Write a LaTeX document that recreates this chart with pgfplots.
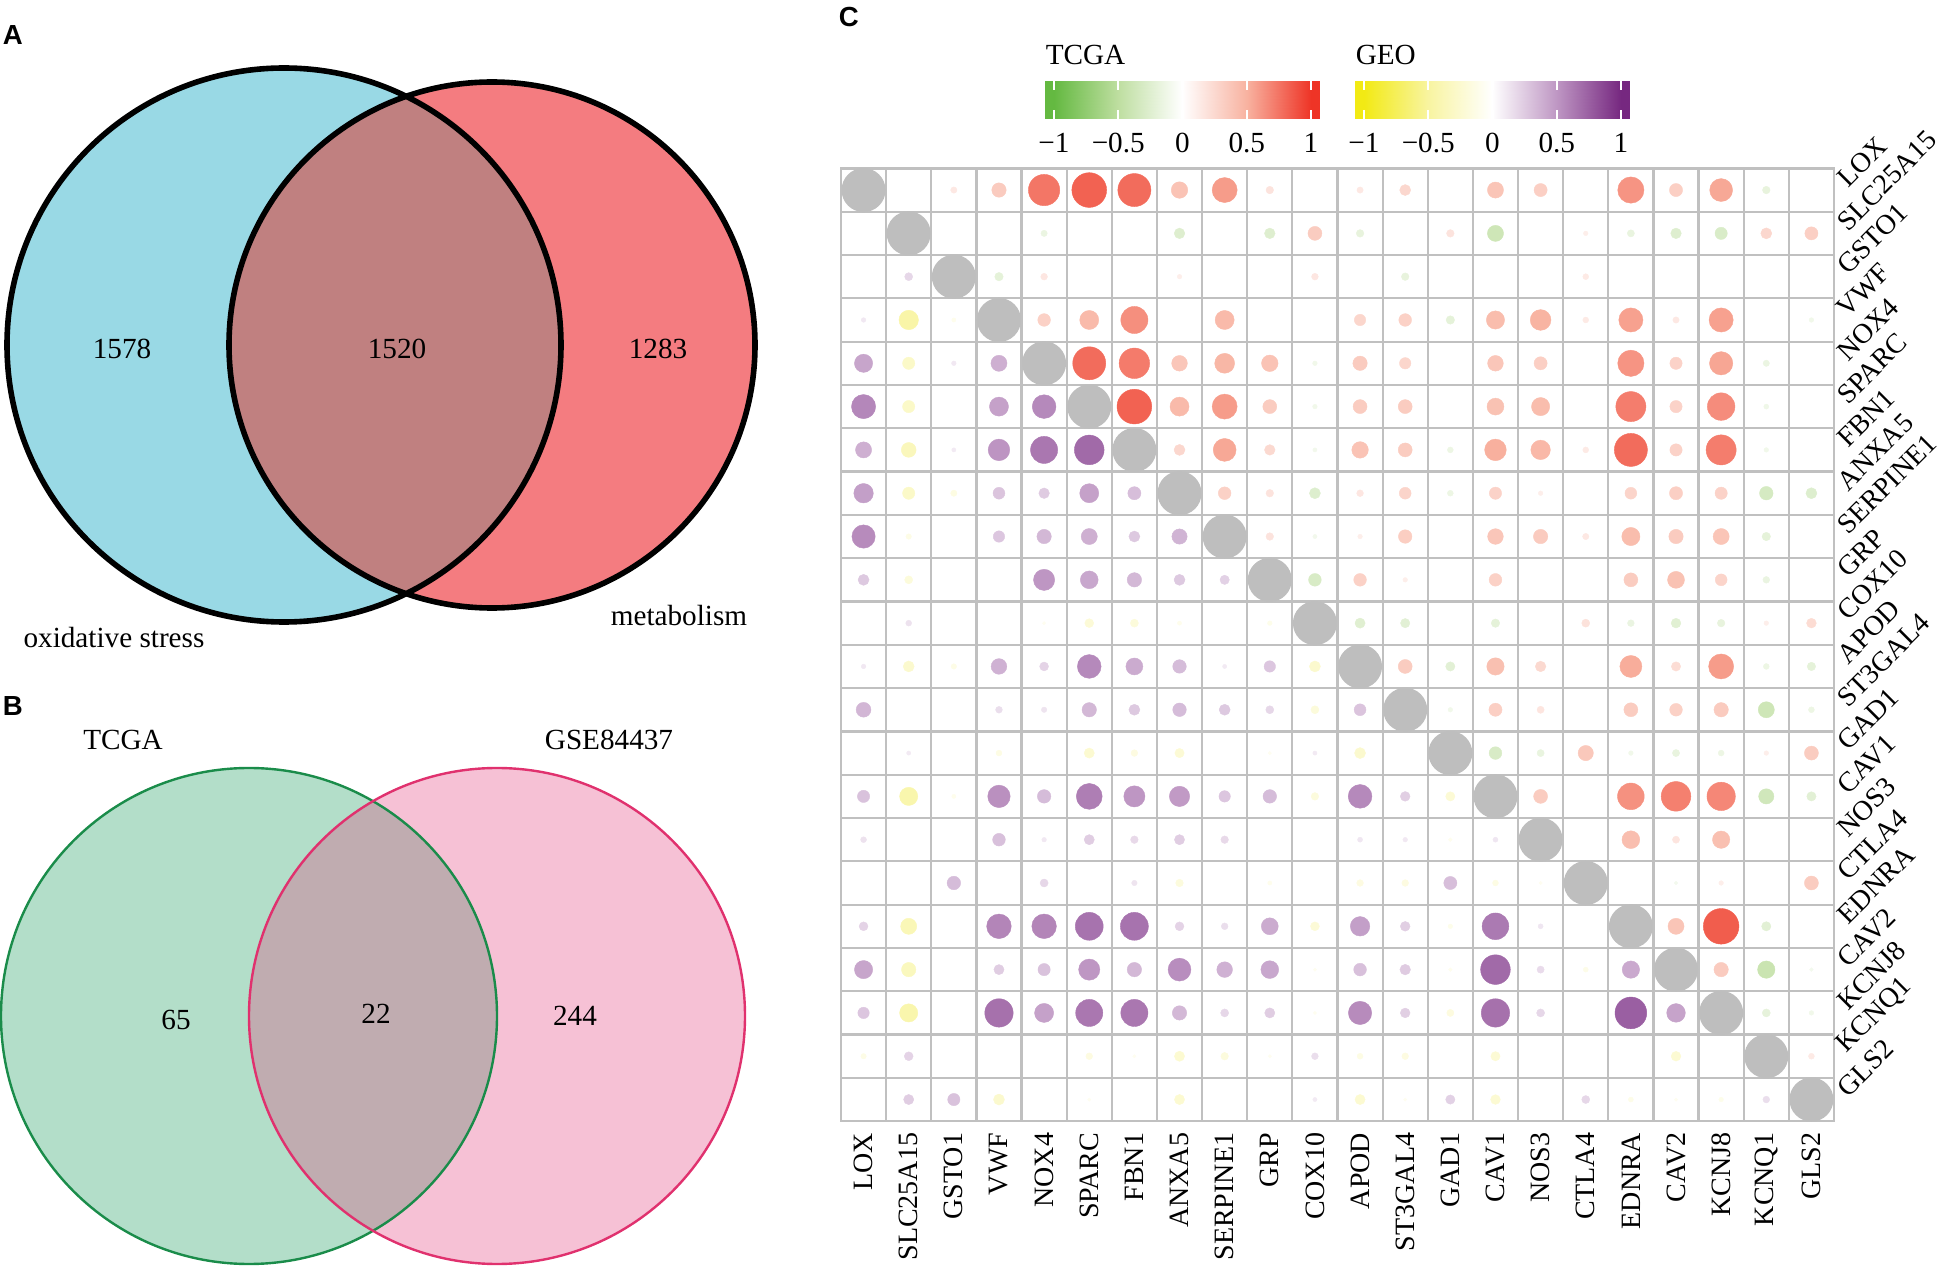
\documentclass[border=0pt]{standalone}
\usepackage{fontspec}
\setmainfont{Liberation Serif}
\setsansfont{Liberation Sans}
\usepackage{pgfplots}
\usepackage{pgfplotstable}
\pgfplotsset{compat=1.18}

\definecolor{vAl}{RGB}{153,217,229}
\definecolor{vAr}{RGB}{244,124,128}
\definecolor{vAi}{RGB}{192,128,128}
\definecolor{vBl}{RGB}{179,222,201}
\definecolor{vBls}{RGB}{26,140,74}
\definecolor{vBr}{RGB}{246,193,213}
\definecolor{vBrs}{RGB}{224,49,110}
\definecolor{vBi}{RGB}{192,172,176}
\definecolor{cgrid}{RGB}{192,192,192}
\definecolor{cdiag}{RGB}{190,190,190}

\pgfplotsset{
  colormap={tcga}{rgb255(0cm)=(100,185,65) rgb255(1cm)=(190,222,160) rgb255(2cm)=(255,255,255) rgb255(3cm)=(248,178,160) rgb255(4cm)=(238,52,38)},
  colormap={geo}{rgb255(0cm)=(242,234,20) rgb255(1cm)=(248,244,160) rgb255(2cm)=(255,255,255) rgb255(3cm)=(190,150,195) rgb255(4cm)=(118,40,128)},
}

\newcommand\txt{\fontsize{7.3}{8.5}\selectfont}
\newcommand\gene{\fontsize{7.0}{8.5}\selectfont}
\newcommand\panel{\sffamily\bfseries\fontsize{6.9}{8}\selectfont}

% upper triangle: TCGA correlations (x = column, y = row)
\pgfplotstableread{
x y v
3 1 0.15
4 1 0.34
5 1 0.74
6 1 0.82
7 1 0.78
8 1 0.39
9 1 0.59
10 1 0.18
12 1 0.15
13 1 0.26
15 1 0.38
16 1 0.31
18 1 0.62
19 1 0.31
20 1 0.54
21 1 -0.18
5 2 -0.15
8 2 -0.25
10 2 -0.25
11 2 0.33
12 2 -0.18
14 2 0.18
15 2 -0.38
17 2 0.11
18 2 -0.17
19 2 -0.25
20 2 -0.29
21 2 0.26
22 2 0.31
4 3 -0.2
5 3 0.16
8 3 0.11
11 3 0.16
13 3 -0.18
17 3 0.14
5 4 0.3
6 4 0.45
7 4 0.64
9 4 0.45
12 4 0.27
13 4 0.3
14 4 -0.2
15 4 0.43
16 4 0.49
17 4 0.14
18 4 0.57
19 4 0.15
20 4 0.57
22 4 -0.11
6 5 0.78
7 5 0.72
8 5 0.37
9 5 0.47
10 5 0.39
11 5 -0.11
12 5 0.34
13 5 0.27
15 5 0.37
16 5 0.31
18 5 0.62
19 5 0.29
20 5 0.55
21 5 -0.15
7 6 0.82
8 6 0.45
9 6 0.59
10 6 0.33
11 6 -0.11
12 6 0.33
13 6 0.33
15 6 0.4
16 6 0.43
18 6 0.71
19 6 0.29
20 6 0.65
21 6 -0.12
8 7 0.26
9 7 0.54
10 7 0.25
11 7 -0.1
12 7 0.39
13 7 0.33
14 7 -0.14
15 7 0.51
16 7 0.46
17 7 0.14
18 7 0.78
19 7 0.29
20 7 0.71
21 7 -0.11
9 8 0.3
10 8 0.18
11 8 -0.26
12 8 0.16
13 8 0.28
14 8 -0.14
15 8 0.29
16 8 0.11
18 8 0.28
19 8 0.31
20 8 0.29
21 8 -0.32
22 8 -0.26
10 9 0.18
11 9 -0.1
12 9 0.11
13 9 0.32
15 9 0.37
16 9 0.34
17 9 0.15
18 9 0.43
19 9 0.34
20 9 0.38
21 9 -0.2
11 10 -0.3
12 10 0.3
13 10 0.11
15 10 0.3
18 10 0.33
19 10 0.4
20 10 0.28
21 10 -0.16
12 11 -0.24
13 11 -0.22
15 11 -0.2
17 11 0.19
18 11 -0.16
19 11 -0.23
20 11 -0.18
21 11 0.11
22 11 0.23
13 12 0.33
14 12 -0.22
15 12 0.41
16 12 0.25
18 12 0.52
19 12 0.22
20 12 0.59
21 12 -0.14
22 12 -0.2
14 13 -0.11
15 13 0.31
16 13 0.17
18 13 0.33
19 13 0.3
20 13 0.34
21 13 -0.38
22 13 -0.14
15 14 -0.3
16 14 -0.17
17 14 0.36
18 14 -0.11
19 14 -0.17
20 14 -0.14
21 14 0.11
22 14 0.33
16 15 0.33
18 15 0.63
19 15 0.7
20 15 0.67
21 15 -0.36
22 15 -0.22
18 16 0.42
19 16 0.17
20 16 0.41
19 17 -0.09
20 17 0.11
22 17 0.33
19 18 0.38
20 18 0.84
21 18 -0.22
20 19 0.34
21 19 -0.41
22 19 -0.09
21 20 -0.19
22 20 -0.11
22 21 0.14
}\tcgatab

% lower triangle: GEO correlations
\pgfplotstableread{
x y v
2 3 0.19
1 4 0.11
2 4 -0.46
3 4 -0.1
1 5 0.43
2 5 -0.29
3 5 0.11
4 5 0.38
1 6 0.57
2 6 -0.29
4 6 0.45
5 6 0.56
1 7 0.38
2 7 -0.35
3 7 0.1
4 7 0.51
5 7 0.64
6 7 0.7
1 8 0.46
2 8 -0.29
3 8 -0.15
4 8 0.28
5 8 0.25
6 8 0.45
7 8 0.31
1 9 0.55
2 9 -0.13
4 9 0.27
5 9 0.34
6 9 0.38
7 9 0.26
8 9 0.36
1 10 0.26
2 10 -0.19
5 10 0.5
6 10 0.42
7 10 0.34
8 10 0.26
9 10 0.22
2 11 0.14
5 11 -0.08
6 11 -0.21
7 11 -0.19
8 11 -0.1
10 11 -0.11
1 12 0.11
2 12 -0.26
3 12 -0.13
4 12 0.37
5 12 0.21
6 12 0.56
7 12 0.4
8 12 0.32
9 12 0.1
10 12 0.27
11 12 -0.26
1 13 0.35
4 13 0.16
5 13 0.13
6 13 0.34
7 13 0.26
8 13 0.32
9 13 0.26
10 13 0.19
11 13 -0.19
12 13 0.28
2 14 0.1
4 14 -0.14
6 14 -0.24
7 14 -0.16
8 14 -0.22
10 14 -0.08
11 14 0.1
12 14 -0.26
1 15 0.29
2 15 -0.43
3 15 -0.1
4 15 0.53
5 15 0.32
6 15 0.61
7 15 0.5
8 15 0.48
9 15 0.27
10 15 0.32
11 15 -0.18
12 15 0.56
13 15 0.23
14 15 -0.22
1 16 0.14
4 16 0.3
5 16 0.11
6 16 0.24
7 16 0.18
8 16 0.24
9 16 0.18
12 16 0.12
13 16 0.11
14 16 -0.09
15 16 0.12
3 17 0.32
5 17 0.19
7 17 0.13
8 17 -0.18
10 17 -0.1
12 17 -0.16
13 17 -0.16
14 17 0.31
15 17 -0.14
16 17 -0.08
1 18 0.21
2 18 -0.38
4 18 0.58
5 18 0.58
6 18 0.66
7 18 0.66
8 18 0.21
9 18 0.16
10 18 0.4
11 18 -0.21
12 18 0.46
13 18 0.23
14 18 -0.11
15 18 0.63
16 18 0.12
1 19 0.43
2 19 -0.34
4 19 0.24
5 19 0.29
6 19 0.5
7 19 0.34
8 19 0.54
9 19 0.37
10 19 0.42
11 19 -0.08
12 19 0.3
13 19 0.25
14 19 -0.09
15 19 0.7
16 19 0.17
17 19 -0.12
18 19 0.41
1 20 0.27
2 20 -0.43
4 20 0.67
5 20 0.45
6 20 0.64
7 20 0.64
8 20 0.34
9 20 0.19
10 20 0.24
11 20 -0.08
12 20 0.55
13 20 0.23
14 20 -0.17
15 20 0.67
16 20 0.19
18 20 0.75
19 20 0.44
1 21 -0.13
2 21 0.21
6 21 -0.16
7 21 -0.08
8 21 -0.24
9 21 -0.18
10 21 -0.08
11 21 0.16
12 21 -0.14
13 21 -0.16
15 21 -0.22
19 21 -0.23
2 22 0.24
3 22 0.29
4 22 -0.26
6 22 -0.08
8 22 -0.24
11 22 0.1
12 22 -0.24
13 22 -0.08
14 22 0.22
15 22 -0.23
17 22 0.19
18 22 -0.12
19 22 -0.08
20 22 -0.11
21 22 0.16
}\geotab

% colour bar strips
\pgfplotstableread{
x y
-1.07 0
-1 0
-0.5 0
0 0
0.5 0
1 0
1.07 0
-1.07 1
-1 1
-0.5 1
0 1
0.5 1
1 1
1.07 1
}\bartab

\pgfplotsset{
  cbar/.style={
    anchor=south west, scale only axis, width=68.75pt, height=9.5pt,
    xmin=-1.07, xmax=1.07, ymin=0, ymax=1,
    ytick=\empty, xtick={-1,-0.5,0,0.5,1},
    xticklabels={−1,−0.5,0,0.5,1},
    xticklabel style={font=\txt},
    axis line style={draw=none},
    tick align=inside, major tick length=2.2pt,
    tick style={white, line width=0.6pt},
    axis on top, point meta min=-1, point meta max=1,
  },
  corr/.style={
    scatter, only marks, mark=*,
    point meta=\thisrow{v},
    scatter/use mapped color={draw=mapped color, fill=mapped color},
    visualization depends on={5.3*abs(\thisrow{v}) \as \rad},
    scatter/@pre marker code/.append style={/tikz/mark size=\rad},
    mark options={line width=0.1pt},
  },
}

\begin{document}
\begin{tikzpicture}
\useasboundingbox (0pt,0pt) rectangle (485.75pt,-317.25pt);

% panels A and B
\begin{axis}[at={(0pt,0pt)}, anchor=north west, scale only axis,
  width=195pt, height=317.25pt, xmin=0, xmax=780, ymin=0, ymax=1269,
  y dir=reverse, hide axis, clip=false]
  \fill[vAl] (axis cs:284,345) circle[radius=69.25pt];
  \fill[vAr] (axis cs:492,345) circle[radius=65.75pt];
  \begin{scope}
    \clip (axis cs:284,345) circle[radius=69.25pt];
    \fill[vAi] (axis cs:492,345) circle[radius=65.75pt];
  \end{scope}
  \draw[line width=1.4pt] (axis cs:284,345) circle[radius=69.25pt];
  \draw[line width=1.4pt] (axis cs:492,345) circle[radius=65.75pt];
  \node[font=\txt] at (axis cs:122,349) {1578};
  \node[font=\txt] at (axis cs:397,349) {1520};
  \node[font=\txt] at (axis cs:658,349) {1283};
  \node[font=\txt] at (axis cs:114,638) {oxidative stress};
  \node[font=\txt] at (axis cs:679,616) {metabolism};

  \fill[vBl] (axis cs:249,1016) circle[radius=62pt];
  \fill[vBr] (axis cs:497,1016) circle[radius=62pt];
  \begin{scope}
    \clip (axis cs:249,1016) circle[radius=62pt];
    \fill[vBi] (axis cs:497,1016) circle[radius=62pt];
  \end{scope}
  \draw[vBls, line width=0.6pt] (axis cs:249,1016) circle[radius=62pt];
  \draw[vBrs, line width=0.6pt] (axis cs:497,1016) circle[radius=62pt];
  \node[font=\txt] at (axis cs:123,740) {TCGA};
  \node[font=\txt] at (axis cs:609,740) {GSE84437};
  \node[font=\txt] at (axis cs:176,1020) {65};
  \node[font=\txt] at (axis cs:376,1014) {22};
  \node[font=\txt] at (axis cs:575,1016) {244};
\end{axis}

\node[anchor=base west, font=\panel, inner sep=0pt] at (0.5pt,-11.25pt) {A};
\node[anchor=base west, font=\panel, inner sep=0pt] at (0.5pt,-179pt) {B};
\node[anchor=base west, font=\panel, inner sep=0pt] at (209.5pt,-6.75pt) {C};

% colour bars
\node[anchor=base west, font=\txt, inner sep=0pt] at (261.25pt,-16.25pt) {TCGA};
\node[anchor=base west, font=\txt, inner sep=0pt] at (338.75pt,-16.25pt) {GEO};
\begin{axis}[cbar, at={(261.25pt,-29.75pt)}]
  \addplot[surf, shader=interp, colormap name=tcga, point meta=x, mesh/cols=7] table {\bartab};
\end{axis}
\begin{axis}[cbar, at={(338.75pt,-29.75pt)}]
  \addplot[surf, shader=interp, colormap name=geo, point meta=x, mesh/cols=7] table {\bartab};
\end{axis}

% correlation matrix
\begin{axis}[at={(210.25pt,-280.3pt)}, anchor=south west, scale only axis,
  width=248.25pt, height=238.2pt,
  xmin=0.5, xmax=22.5, ymin=0.5, ymax=22.5, y dir=reverse,
  xtick={1,...,22}, ytick={1,...,22},
  xticklabels={LOX,SLC25A15,GSTO1,VWF,NOX4,SPARC,FBN1,ANXA5,SERPINE1,GRP,COX10,APOD,ST3GAL4,GAD1,CAV1,NOS3,CTLA4,EDNRA,CAV2,KCNJ8,KCNQ1,GLS2},
  yticklabels={LOX,SLC25A15,GSTO1,VWF,NOX4,SPARC,FBN1,ANXA5,SERPINE1,GRP,COX10,APOD,ST3GAL4,GAD1,CAV1,NOS3,CTLA4,EDNRA,CAV2,KCNJ8,KCNQ1,GLS2},
  minor xtick={0.5,1.5,...,22.5}, minor ytick={0.5,1.5,...,22.5},
  grid=minor, minor grid style={draw=cgrid, line width=0.55pt},
  axis line style={draw=cgrid, line width=0.55pt},
  major tick length=0pt, minor tick length=0pt,
  yticklabel pos=right,
  xticklabel style={rotate=90, anchor=east, font=\gene, inner sep=2.7pt},
  yticklabel style={rotate=45, anchor=west, font=\gene, inner sep=2.5pt},
  point meta min=-1, point meta max=1, clip=false]
  \addplot[corr, colormap name=tcga] table {\tcgatab};
  \addplot[corr, colormap name=geo] table {\geotab};
  \addplot[only marks, mark=*, mark size=5.3pt, color=cdiag, mark options={draw=none, fill=cdiag}] coordinates {
    (1,1) (2,2) (3,3) (4,4) (5,5) (6,6) (7,7) (8,8) (9,9) (10,10) (11,11)
    (12,12) (13,13) (14,14) (15,15) (16,16) (17,17) (18,18) (19,19) (20,20) (21,21) (22,22)};
\end{axis}
\end{tikzpicture}
\end{document}
